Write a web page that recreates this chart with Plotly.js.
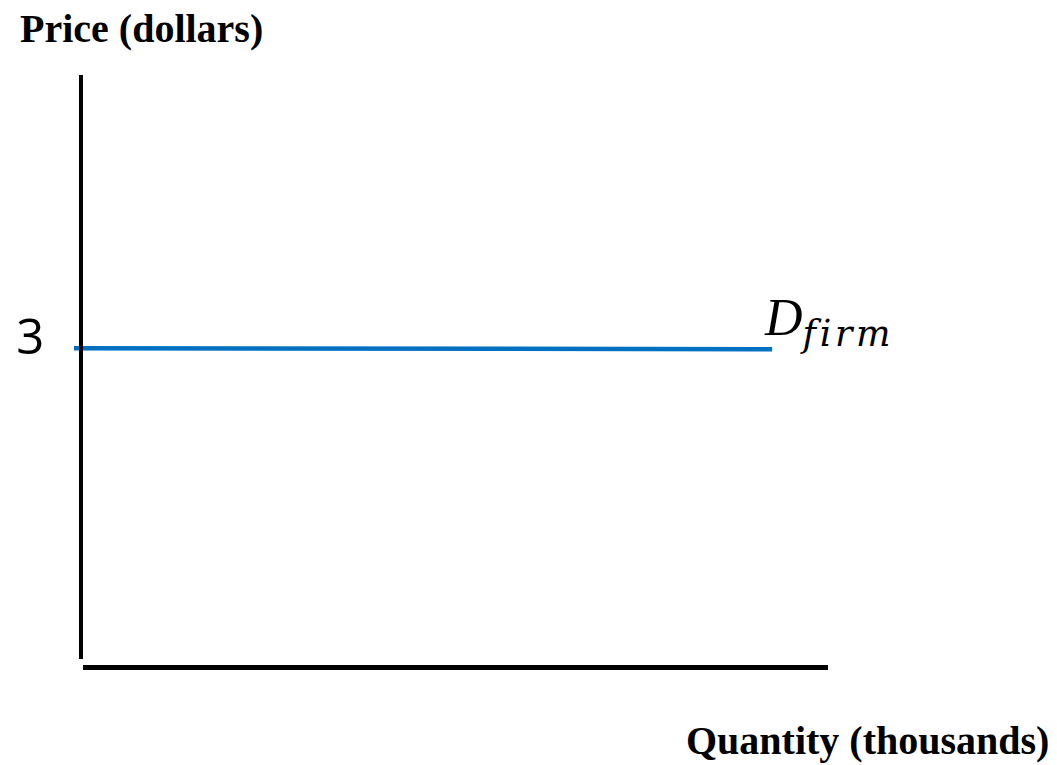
<!DOCTYPE html>
<html>
<head>
<meta charset="utf-8">
<script src="https://cdn.plot.ly/plotly-3.0.1.min.js"></script>
<style>html,body{margin:0;padding:0;background:#fff;}#chart{width:1057px;height:765px;}</style>
</head>
<body>
<div id="chart"></div>
<script>
// Data
const quantity = [-0.12, 9.25];
const price = [3, 2.99];
const priceTickVals = [3];
const priceTickText = ["3"];
const yTitle = "Price (dollars)";
const xTitle = "Quantity (thousands)";

// plot area: x from 74 to 828 px, y from 75 to 667.5 px
const W = 754, H = 592.5, L = 74, T = 75;
const px = v => (v - L) / W;
const py = v => (T + H - v) / H;

const demand = {
  x: quantity,
  y: price,
  type: "scatter",
  mode: "lines",
  xaxis: "x",
  yaxis: "y",
  line: {color: "#0070C0", width: 4.5},
  hoverinfo: "skip",
  showlegend: false
};

// empty trace so the axis frame subplot (x2, y) is built
const frame = {
  x: [],
  y: [],
  type: "scatter",
  mode: "lines",
  xaxis: "x2",
  yaxis: "y",
  hoverinfo: "skip",
  showlegend: false
};

const layout = {
  width: 1057,
  height: 765,
  margin: {l: L, r: 1057 - L - W, t: T, b: 765 - T - H, pad: 0},
  paper_bgcolor: "#ffffff",
  plot_bgcolor: "rgba(0,0,0,0)",
  showlegend: false,
  xaxis: {
    domain: [0, 1],
    anchor: "y",
    range: [-0.12, 10],
    showgrid: false, zeroline: false, showline: false,
    showticklabels: false, ticks: "",
    fixedrange: true
  },
  xaxis2: {
    domain: [px(83), 1],
    anchor: "free",
    position: 0,
    range: [0, 10],
    showgrid: false, zeroline: false,
    showline: true, linecolor: "#000000", linewidth: 5,
    showticklabels: false, ticks: "",
    fixedrange: true
  },
  yaxis: {
    anchor: "x2",
    domain: [py(659), 1],
    range: [0, 5.64],
    layer: "below traces",
    showgrid: false, zeroline: false,
    showline: true, linecolor: "#000000", linewidth: 4,
    tickmode: "array", tickvals: priceTickVals, ticktext: priceTickText,
    ticks: "",
    ticklabelstandoff: 25,
    ticklabelshift: -11,
    tickfont: {family: "Open Sans, sans-serif", size: 49, color: "#000000"},
    fixedrange: true
  },
  annotations: [
    {
      text: "<b>" + yTitle + "</b>",
      xref: "paper", yref: "paper",
      x: px(18), y: py(28),
      xanchor: "left", yanchor: "middle",
      showarrow: false,
      font: {family: "Liberation Serif, Times New Roman, serif", size: 40, color: "#000000"}
    },
    {
      text: "<b>" + xTitle + "</b>",
      xref: "paper", yref: "paper",
      x: px(1051), y: py(741),
      xanchor: "right", yanchor: "middle",
      showarrow: false,
      font: {family: "Liberation Serif, Times New Roman, serif", size: 40, color: "#000000"}
    },
    {
      text: "<i>D</i><sub><i><span style=\"font-family:'DejaVu Serif'\">f&#8202;i&#8202;r&#8202;m</span></i></sub>",
      xref: "paper", yref: "paper",
      x: px(762), y: py(322),
      xanchor: "left", yanchor: "middle",
      showarrow: false,
      font: {family: "Liberation Serif, serif", size: 52, color: "#000000"}
    }
  ]
};

Plotly.newPlot("chart", [demand, frame], layout, {displayModeBar: false, staticPlot: true});
</script>
</body>
</html>
